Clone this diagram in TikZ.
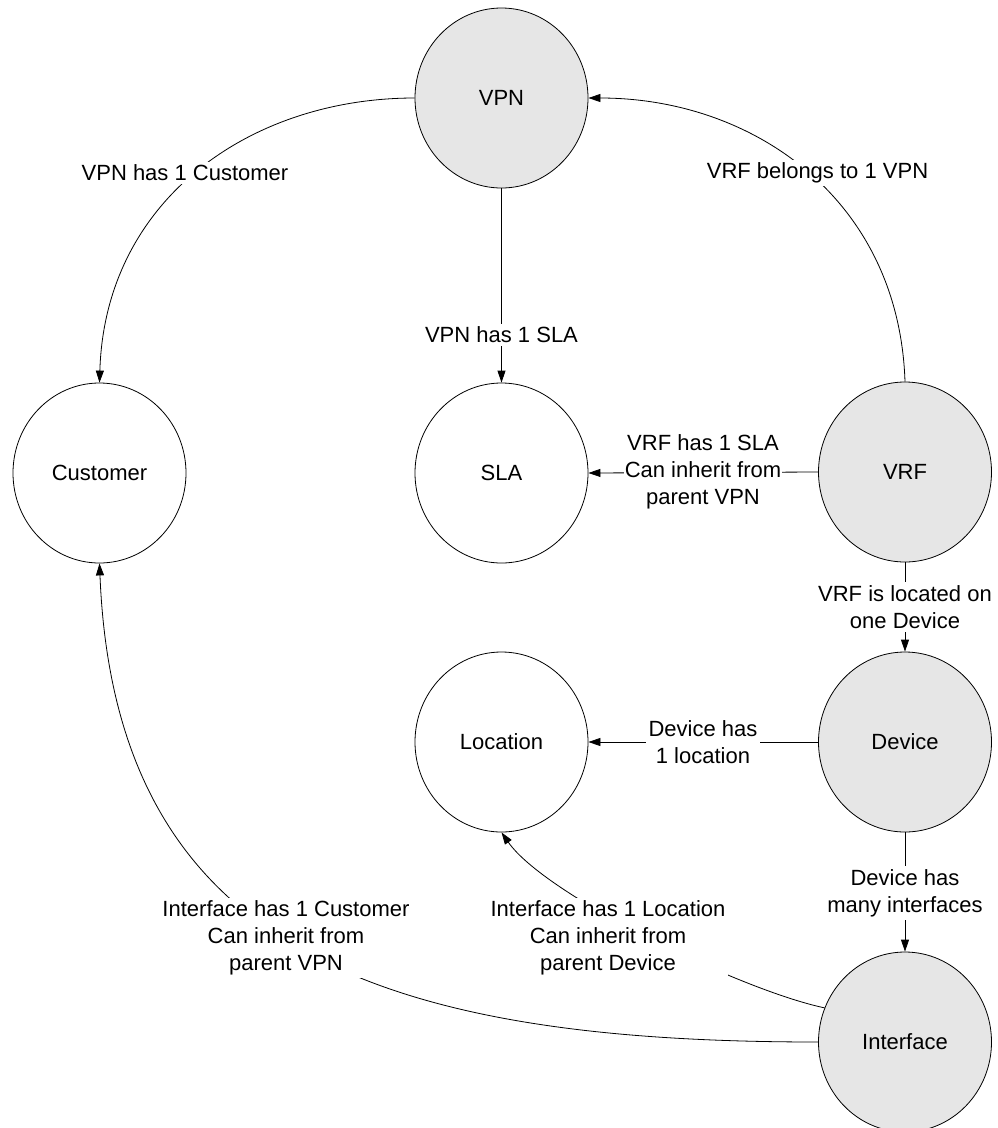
\documentclass[tikz,border=0pt]{standalone}
\usepackage{fontspec}
\setmainfont{Liberation Sans}
\usetikzlibrary{shapes.geometric,arrows.meta}
\definecolor{entgray}{RGB}{230,230,230}
\newcommand\lbl{\fontsize{22}{27}\selectfont}
\tikzset{
  ent/.style={ellipse, draw=black, line width=0.8pt, minimum width=173pt, minimum height=180pt, inner sep=0pt, font=\lbl},
  grayent/.style={ent, fill=entgray},
  whiteent/.style={ent, fill=white},
  conn/.style={draw=black, line width=0.8pt, -{Triangle[length=12pt,width=8pt]}},
  lab/.style={fill=white, inner sep=3pt, align=center, font=\lbl},
}
\begin{document}
\begin{tikzpicture}[x=1pt,y=-1pt]
\useasboundingbox (0,0) rectangle (997,1128);
% entities
\node[grayent]  (vpn)  at (501.5,98)   {VPN};
\node[whiteent] (cust) at (99.5,473)   {Customer};
\node[whiteent] (sla)  at (501.5,473)  {SLA};
\node[grayent]  (vrf)  at (905,472)    {VRF};
\node[whiteent] (loc)  at (501.5,742)  {Location};
\node[grayent]  (dev)  at (905,742)    {Device};
\node[grayent]  (intf) at (905,1042)   {Interface};
% connectors
\draw[conn] (vpn.west) .. controls (250,98) and (105,200) .. (cust.north);
\draw[conn] (vrf.north) .. controls (899,200) and (754,98) .. (vpn.east);
\draw[conn] (vpn.south) -- (sla.north);
\draw[conn] (vrf.west) -- (sla.east);
\draw[conn] (vrf.south) -- (dev.north);
\draw[conn] (dev.west) -- (loc.east);
\draw[conn] (dev.south) -- (intf.north);
\draw[conn] (intf.west) .. controls (380,1042) and (115,950) .. (cust.south);
\draw[conn] (intf.157) .. controls (740,990) and (545,895) .. (loc.south);
% labels
\node[lab] (l1) at (185,173)   {VPN has 1 Customer};
\node[lab] (l2) at (817.5,173) {VRF belongs to 1 VPN};
\node[lab] (l3) at (501.5,335) {VPN has 1 SLA};
\node[lab, inner sep=1pt] (l4) at (703,472) {VRF has 1 SLA\\Can inherit from\\parent VPN};
\node[lab] (l5) at (905,607)   {VRF is located on\\one Device};
\node[lab] (l6) at (703,742)   {Device has\\1 location};
\node[lab] (l7) at (905,893)   {Device has\\many interfaces};
\node[lab] (l8) at (286,938)   {Interface has 1 Customer\\Can inherit from\\parent VPN};
\node[lab] (l9) at (608,938)   {Interface has 1 Location\\Can inherit from\\parent Device};
\end{tikzpicture}
\end{document}
